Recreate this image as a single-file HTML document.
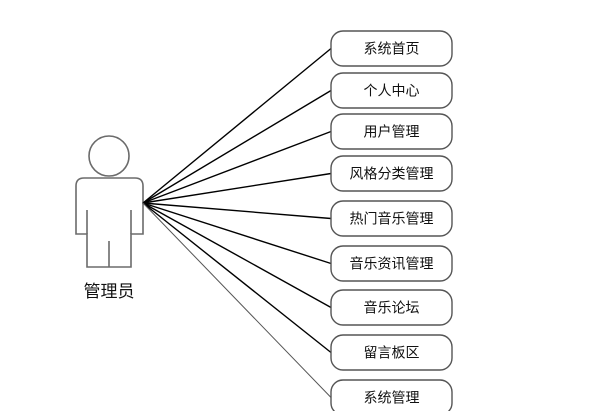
<!DOCTYPE html>
<html><head><meta charset="utf-8"><style>
html,body{margin:0;padding:0;background:#fff;}
svg{display:block;}
text{font-family:"Liberation Sans","Noto Sans CJK SC",sans-serif;}
</style></head><body>
<svg width="600" height="411" viewBox="0 0 600 411" xmlns="http://www.w3.org/2000/svg">
<g fill="none" stroke="#6b6b6b" stroke-width="1.6">
<circle cx="109" cy="156" r="20"/>
<path d="M84 178 H135 Q143 178 143 186 V234 H131 V267 H87 V234 H76 V186 Q76 178 84 178 Z"/>
<path d="M87 210 V234 M131 210 V234 M109 241 V267"/>
</g>
<text x="109" y="297" font-size="17" text-anchor="middle" fill="#111">管理员</text>
<g stroke="#000" stroke-width="1.4">
<line x1="143" y1="203" x2="331" y2="48.5"/>
<line x1="143" y1="203" x2="331" y2="90.5"/>
<line x1="143" y1="203" x2="331" y2="131.5"/>
<line x1="143" y1="203" x2="331" y2="173.5"/>
<line x1="143" y1="203" x2="331" y2="218.5"/>
<line x1="143" y1="203" x2="331" y2="263.5"/>
<line x1="143" y1="203" x2="331" y2="307.5"/>
<line x1="143" y1="203" x2="331" y2="352.5"/>
<line x1="143" y1="203" x2="331" y2="397.5" stroke="#555" stroke-width="1"/>
</g>
<g fill="#fff" stroke="#555" stroke-width="1.4">
<rect x="331" y="31" width="121" height="35" rx="12"/>
<rect x="331" y="73" width="121" height="35" rx="12"/>
<rect x="331" y="114" width="121" height="35" rx="12"/>
<rect x="331" y="156" width="121" height="35" rx="12"/>
<rect x="331" y="201" width="121" height="35" rx="12"/>
<rect x="331" y="246" width="121" height="35" rx="12"/>
<rect x="331" y="290" width="121" height="35" rx="12"/>
<rect x="331" y="335" width="121" height="35" rx="12"/>
<rect x="331" y="380" width="121" height="35" rx="12"/>
</g>
<g font-size="14" text-anchor="middle" fill="#111">
<text x="391.5" y="53.5">系统首页</text>
<text x="391.5" y="95.5">个人中心</text>
<text x="391.5" y="136.5">用户管理</text>
<text x="391.5" y="178.5">风格分类管理</text>
<text x="391.5" y="223.5">热门音乐管理</text>
<text x="391.5" y="268.5">音乐资讯管理</text>
<text x="391.5" y="312.5">音乐论坛</text>
<text x="391.5" y="357.5">留言板区</text>
<text x="391.5" y="402.5">系统管理</text>
</g>
</svg>
</body></html>
